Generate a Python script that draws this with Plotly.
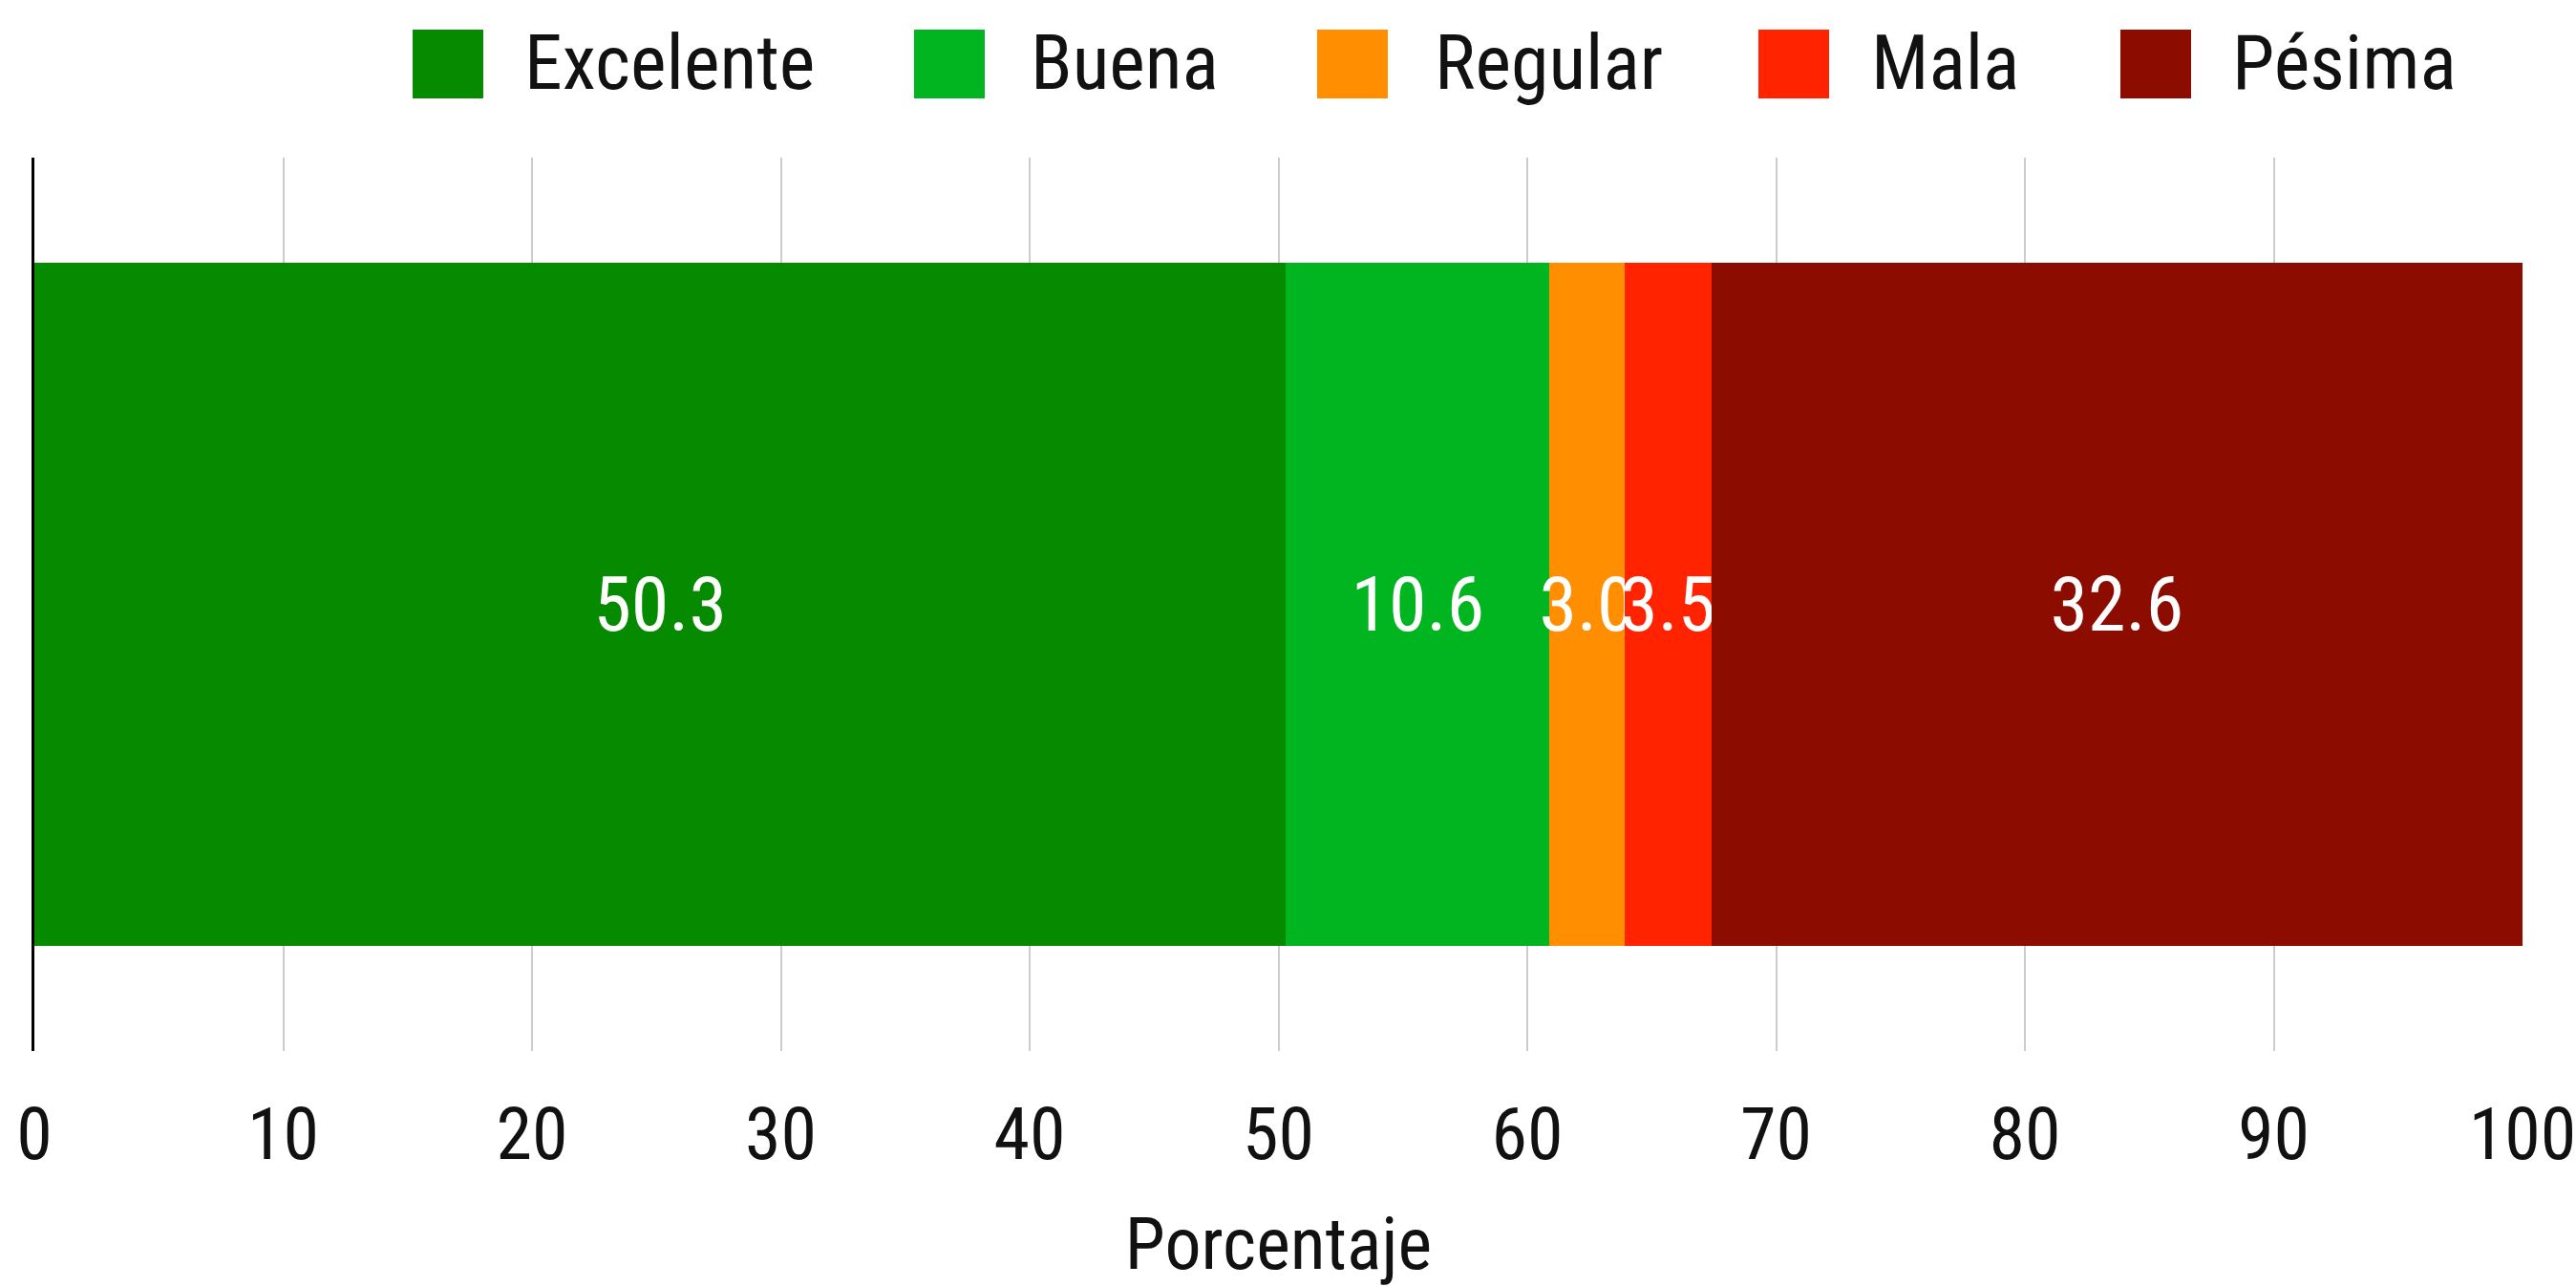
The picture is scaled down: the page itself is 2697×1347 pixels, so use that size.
import plotly.graph_objects as go

categories = ["Excelente", "Buena", "Regular", "Mala", "Pésima"]
values = [50.3, 10.6, 3.0, 3.5, 32.6]
colors = ["#058a00", "#00b520", "#ff8f00", "#ff2300", "#8c0c00"]
row_label = [""]
x_ticks = [0, 10, 20, 30, 40, 50, 60, 70, 80, 90, 100]

FONT = "Roboto Condensed, Roboto, Liberation Sans Narrow, sans-serif"
TXT = "#111111"
W, H = 2697, 1347
ML, MR, MT, MB = 36, 56, 165, 247
PW, PH = W - ML - MR, H - MT - MB

fig = go.Figure()
for cat, val, col in zip(categories, values, colors):
    fig.add_trace(go.Bar(
        x=[val], y=row_label, name=cat, orientation="h",
        marker=dict(color=col, line=dict(width=0)),
        text=[f"{val:.1f}"], textposition="inside", insidetextanchor="middle",
        textangle=0, textfont=dict(color="white", size=80, family=FONT),
        showlegend=False,
    ))

# custom legend (large square swatches like the reference)
swatch_left = [432, 957, 1379, 1841, 2220]
text_left = [547, 1077, 1500, 1957, 2335]
sw = 74
def px2x(p):
    return (p - ML) / PW
def py2y(p):
    return (MT + PH - p) / PH
for cat, col, sl, tl in zip(categories, colors, swatch_left, text_left):
    fig.add_shape(type="rect", xref="paper", yref="paper",
                  x0=px2x(sl), x1=px2x(sl + sw), y0=py2y(103), y1=py2y(31),
                  fillcolor=col, line=dict(width=0))
    fig.add_annotation(xref="paper", yref="paper", x=px2x(tl), y=py2y(66),
                       text=cat, showarrow=False, xanchor="left", yanchor="middle",
                       font=dict(size=80, color=TXT, family=FONT))

fig.update_layout(
    width=W, height=H,
    margin=dict(l=ML, r=MR, t=MT, b=MB, pad=0),
    barmode="stack", bargap=0.235,
    plot_bgcolor="white", paper_bgcolor="white",
    uniformtext=dict(minsize=80, mode="show"),
    font=dict(family=FONT, color=TXT),
    xaxis=dict(
        range=[0, 100], tickvals=x_ticks, ticktext=[str(t) for t in x_ticks],
        showgrid=True, gridcolor="#cccccc", gridwidth=2,
        zeroline=False, showline=False,
        ticks="outside", ticklen=21, tickcolor="rgba(0,0,0,0)",
        ticklabeloverflow="allow",
        tickfont=dict(size=76, color=TXT, family=FONT),
        title=dict(text="Porcentaje", standoff=57,
                   font=dict(size=76, color=TXT, family=FONT)),
        automargin=False,
    ),
    yaxis=dict(showticklabels=False, showgrid=False, zeroline=False,
               showline=True, linecolor="#000000", linewidth=3,
               range=[-0.5, 0.5], automargin=False),
)

fig.write_html("out.html", config={"displayModeBar": False},
               post_script="document.body.style.margin='0';")
